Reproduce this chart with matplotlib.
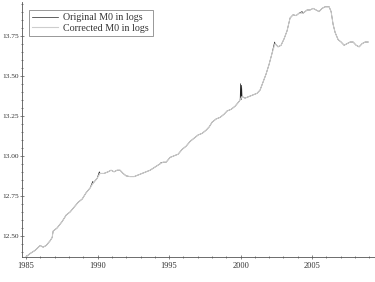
import pandas as pd
import matplotlib
matplotlib.use('Agg')
import matplotlib.pyplot as plt
import numpy as np
from matplotlib.ticker import MultipleLocator

# corrected M0 series
years = [1985.0, 1985.28, 1985.63, 1985.98, 1986.19, 1986.40, 1986.68, 1986.82, 1986.89, 1987.17,
         1987.52, 1987.80, 1988.08, 1988.36, 1988.64, 1988.92, 1989.20, 1989.48, 1989.69, 1989.97,
         1990.17, 1990.45, 1990.73, 1990.94, 1991.15, 1991.36, 1991.57, 1991.78, 1991.99, 1992.27,
         1992.55, 1992.83, 1993.11, 1993.39, 1993.67, 1994.02, 1994.37, 1994.58, 1994.79, 1995.07,
         1995.35, 1995.63, 1995.91, 1996.19, 1996.47, 1996.75, 1997.03, 1997.31, 1997.59, 1997.80,
         1998.01, 1998.29, 1998.57, 1998.85, 1999.06, 1999.34, 1999.62, 1999.90, 2000.10, 2000.31,
         2000.59, 2000.87, 2001.15, 2001.36, 2001.57, 2001.78, 2001.99, 2002.20, 2002.41, 2002.62,
         2002.83, 2003.04, 2003.25, 2003.46, 2003.67, 2003.88, 2004.09, 2004.37, 2004.65, 2004.86,
         2005.07, 2005.28, 2005.49, 2005.70, 2005.91, 2006.19, 2006.33, 2006.47, 2006.61, 2006.82,
         2007.03, 2007.24, 2007.45, 2007.66, 2007.87, 2008.08, 2008.29, 2008.50, 2008.71, 2008.92]
corrected = [12.37, 12.39, 12.41, 12.44, 12.43, 12.44, 12.47, 12.49, 12.53, 12.55,
             12.59, 12.63, 12.65, 12.68, 12.71, 12.73, 12.77, 12.80, 12.83, 12.86,
             12.89, 12.89, 12.90, 12.91, 12.90, 12.91, 12.91, 12.89, 12.875, 12.87,
             12.87, 12.88, 12.89, 12.90, 12.91, 12.93, 12.95, 12.96, 12.96, 12.99,
             13.00, 13.01, 13.04, 13.06, 13.09, 13.11, 13.13, 13.14, 13.16, 13.18,
             13.21, 13.23, 13.24, 13.26, 13.28, 13.29, 13.31, 13.34, 13.37, 13.36,
             13.37, 13.38, 13.39, 13.41, 13.46, 13.51, 13.57, 13.64, 13.70, 13.68,
             13.69, 13.73, 13.78, 13.86, 13.88, 13.875, 13.89, 13.89, 13.91, 13.91,
             13.92, 13.91, 13.90, 13.92, 13.93, 13.93, 13.90, 13.82, 13.77, 13.725,
             13.71, 13.69, 13.70, 13.71, 13.71, 13.69, 13.68, 13.70, 13.71, 13.71]

# where the original series departs from the corrected one
orig_extra_years = [1989.66, 1990.12, 1994.40, 1999.97, 2000.00, 2000.04, 2000.07, 2002.38, 2004.30]
orig_extra_vals = [12.84, 12.90, 12.955, 13.35, 13.45, 13.35, 13.44, 13.71, 13.90]

df = pd.DataFrame({'year': years, 'value': corrected})
orig = pd.concat([df, pd.DataFrame({'year': orig_extra_years, 'value': orig_extra_vals})])
orig = orig.sort_values('year')

plt.rcParams['font.family'] = ['Liberation Serif', 'DejaVu Serif']
fig = plt.figure(figsize=(3.75, 2.82), dpi=100)
ax = fig.add_axes([0.059, 0.089, 0.941, 0.904])

ax.plot(orig['year'], orig['value'], color='#222222', lw=0.5, label='Original M0 in logs')
ax.plot(df['year'], df['value'], color='#cdcdcd', lw=0.8, label='Corrected M0 in logs')

ax.set_xlim(1984.72, 2009.4)
ax.set_ylim(12.369, 13.96)
ax.xaxis.set_major_locator(MultipleLocator(5))
ax.xaxis.set_minor_locator(MultipleLocator(1))
ax.yaxis.set_major_locator(MultipleLocator(0.25))
ax.yaxis.set_minor_locator(MultipleLocator(0.05))
ax.yaxis.set_major_formatter(matplotlib.ticker.FormatStrFormatter('%.2f'))
for s in ['top', 'right']:
    ax.spines[s].set_visible(False)
for s in ['left', 'bottom']:
    ax.spines[s].set_linewidth(0.6)
    ax.spines[s].set_color('#555555')
ax.tick_params(which='major', direction='inout', length=3, width=0.5, color='#555555')
ax.tick_params(which='minor', direction='inout', length=1.6, width=0.5, color='#555555')
ax.tick_params(axis='x', which='major', labelsize=6, pad=2.5, labelcolor='#333333')
ax.tick_params(axis='y', which='major', labelsize=5.3, pad=0.6, labelcolor='#333333')

leg = ax.legend(loc='upper left', bbox_to_anchor=(0.005, 0.99), fontsize=7.2, fancybox=False,
                edgecolor='#888888', framealpha=1, handlelength=2.6, borderpad=0.35,
                labelspacing=0.15, handletextpad=0.5)
leg.get_frame().set_linewidth(0.6)
for t in leg.get_texts():
    t.set_color('#333333')

plt.savefig('out.png', dpi=100)
